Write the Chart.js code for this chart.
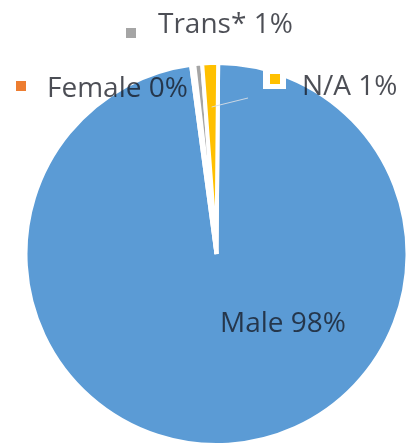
<!DOCTYPE html>
<html>
<head>
<meta charset="utf-8">
<script src="https://cdn.jsdelivr.net/npm/chart.js@4/dist/chart.umd.min.js"></script>
<style>
  html, body { margin: 0; padding: 0; background: #fff; overflow: hidden; }
  #genderChart { display: block; }
</style>
</head>
<body>
<canvas id="genderChart" width="408" height="446"></canvas>
<script>
// 数据
const categories = ['Male', 'Female', 'Trans*', 'N/A'];
const counts = [733, 2, 5, 10];
const sliceColors = ['#5b9bd5', '#ed7d31', '#a5a5a5', '#ffc000'];

// 标签位置 (marker 左上角, 文本起点/基线)
const labelLayout = [
  { inside: true, textX: 220, baseline: 332 },
  { markerX: 16, markerY: 81, textX: 47, baseline: 97 },
  { markerX: 126, markerY: 28, textX: 158, baseline: 33 },
  { markerX: 270, markerY: 74, textX: 302, baseline: 95, box: true, leaderX: 248, leaderY: 98 }
];

const total = counts.reduce((a, b) => a + b, 0);

const pieLabels = {
  id: 'pieLabels',
  afterDraw(chart) {
    const ctx = chart.ctx;
    const arcs = chart.getDatasetMeta(0).data;
    ctx.save();
    ctx.font = '28px "Open Sans", sans-serif';
    ctx.textBaseline = 'alphabetic';
    ctx.textAlign = 'left';
    labelLayout.forEach((pos, i) => {
      const pct = Math.round(counts[i] / total * 100);
      const text = categories[i] + ' ' + pct + '%';
      if (pos.leaderX !== undefined) {
        // 引导线指向扇区
        const arc = arcs[i];
        const mid = (arc.startAngle + arc.endAngle) / 2;
        const r = arc.outerRadius * 0.77;
        ctx.strokeStyle = 'rgba(215, 222, 230, 0.9)';
        ctx.lineWidth = 1;
        ctx.beginPath();
        ctx.moveTo(pos.leaderX, pos.leaderY);
        ctx.lineTo(arc.x + Math.cos(mid) * r, arc.y + Math.sin(mid) * r);
        ctx.stroke();
      }
      if (!pos.inside) {
        if (pos.box) {
          ctx.fillStyle = '#ffffff';
          ctx.fillRect(pos.markerX - 7, pos.markerY - 4, 23, 19);
        }
        ctx.fillStyle = sliceColors[i];
        ctx.fillRect(pos.markerX, pos.markerY, 10, 10);
      }
      ctx.fillStyle = 'rgba(20, 22, 32, 0.76)';
      ctx.fillText(text, pos.textX, pos.baseline);
    });
    ctx.restore();
  }
};

new Chart(document.getElementById('genderChart'), {
  type: 'pie',
  data: {
    labels: categories,
    datasets: [{
      data: counts,
      backgroundColor: sliceColors,
      borderColor: '#ffffff',
      borderWidth: 4
    }]
  },
  options: {
    responsive: false,
    animation: false,
    rotation: 0.5,
    radius: 191,
    layout: {
      padding: { left: 25, right: 0, top: 62, bottom: 0 }
    },
    plugins: {
      legend: { display: false },
      tooltip: { enabled: false }
    }
  },
  plugins: [pieLabels]
});
</script>
</body>
</html>
